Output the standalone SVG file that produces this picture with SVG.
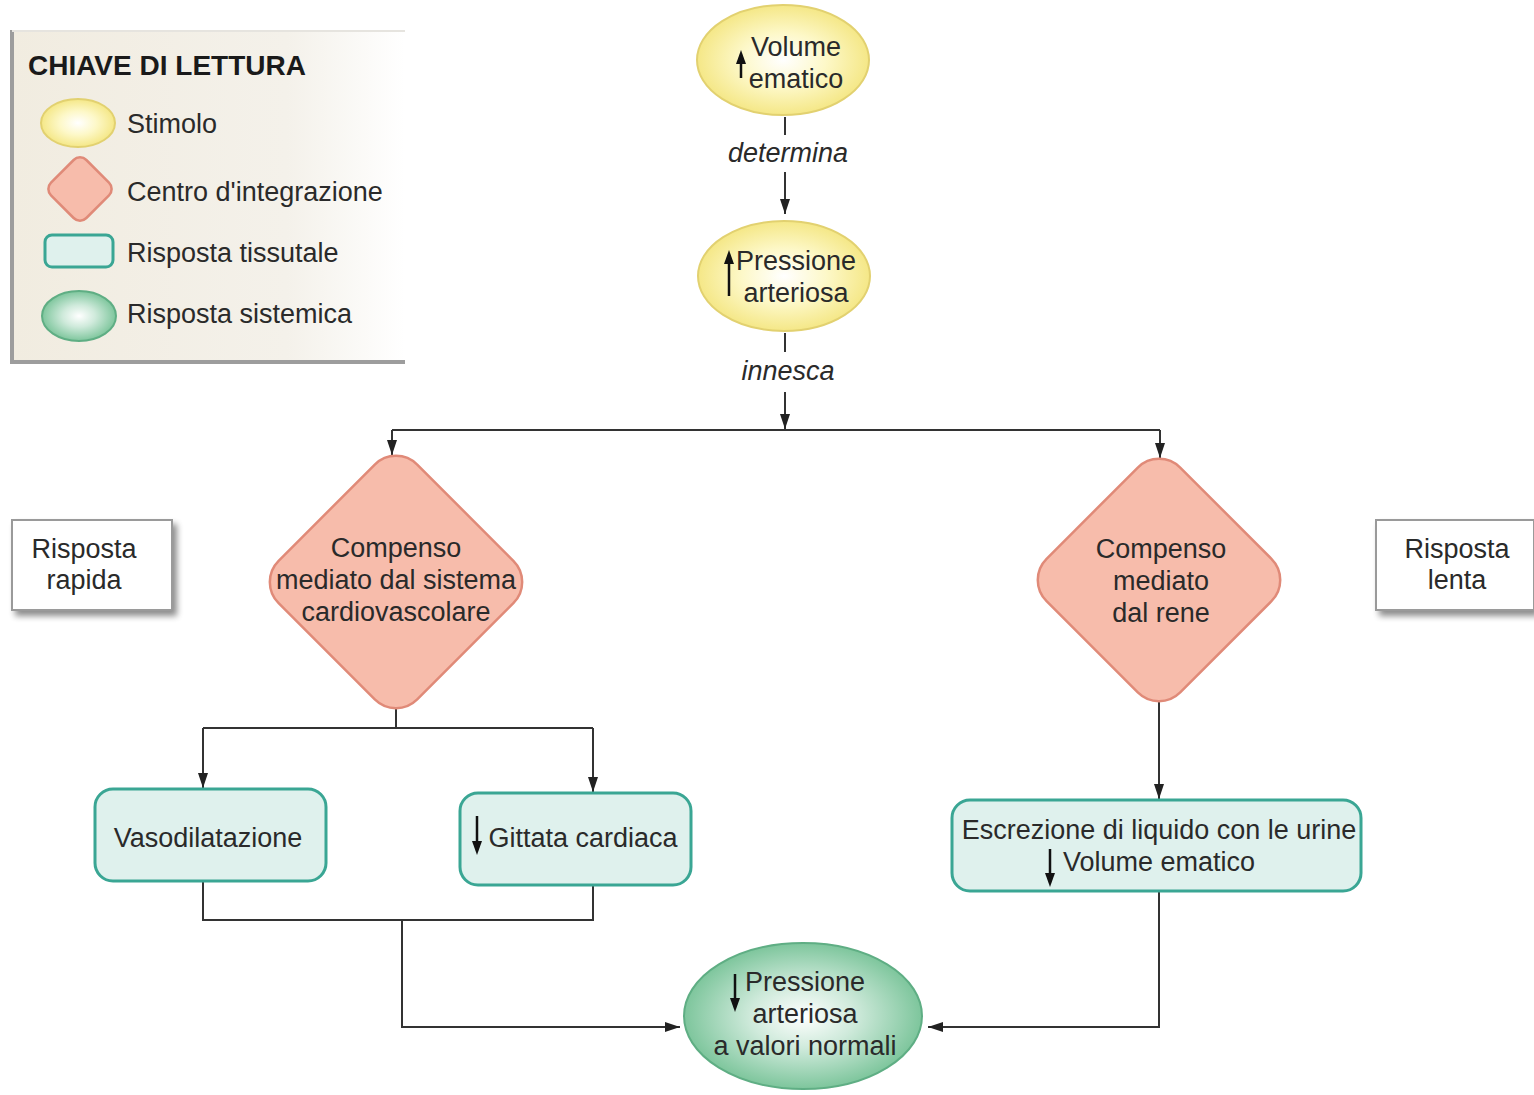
<svg xmlns="http://www.w3.org/2000/svg" width="1534" height="1095" viewBox="0 0 1534 1095">
<defs>
<radialGradient id="gY" cx="50%" cy="50%" r="55%"><stop offset="0" stop-color="#ffffff"/><stop offset="0.45" stop-color="#fdf8c8"/><stop offset="1" stop-color="#f3e47a"/></radialGradient>
<radialGradient id="gG" cx="50%" cy="50%" r="55%"><stop offset="0" stop-color="#ffffff"/><stop offset="0.4" stop-color="#cfeadb"/><stop offset="1" stop-color="#6fbf91"/></radialGradient>
<linearGradient id="gL" x1="0" y1="0" x2="1" y2="0"><stop offset="0" stop-color="#f1ece0"/><stop offset="0.7" stop-color="#f4f1ea"/><stop offset="1" stop-color="#ffffff"/></linearGradient>
<marker id="ah" viewBox="0 0 15 10" refX="15" refY="5" markerWidth="15" markerHeight="10" markerUnits="userSpaceOnUse" orient="auto"><path d="M0,0 L15,5 L0,10 z" fill="#222"/></marker>
<filter id="sh" x="-10%" y="-10%" width="130%" height="130%"><feGaussianBlur in="SourceAlpha" stdDeviation="3"/><feOffset dx="4" dy="5"/><feComponentTransfer><feFuncA type="linear" slope="0.45"/></feComponentTransfer><feMerge><feMergeNode/><feMergeNode in="SourceGraphic"/></feMerge></filter>
</defs>
<style>
text{font-family:"Liberation Sans",Arial,sans-serif;font-size:27px;fill:#2a2a2a}
.c{text-anchor:middle}
.it{font-style:italic}
.b{font-weight:bold;font-size:28px;fill:#1a1a1a}
.stim{fill:url(#gY);stroke:#e2d170;stroke-width:2}
.cent{fill:#f7bcab;stroke:#e08a78;stroke-width:2.5}
.tis{fill:#dff1ed;stroke:#3aa694;stroke-width:3}
.sys{fill:url(#gG);stroke:#5fae84;stroke-width:2}
.con{fill:none;stroke:#333;stroke-width:2}
.ar{stroke:#111;stroke-width:2.5}
.hd{fill:#111}
.side{fill:#fff;stroke:#9a9a9a;stroke-width:2}
</style>
<rect width="1534" height="1095" fill="#fff"/>

<g id="legend">
<rect x="10" y="30" width="395" height="332" fill="url(#gL)"/>
<path d="M12,30 L12,362 L405,362" fill="none" stroke="#9d9d9d" stroke-width="4"/>
<path d="M12,31 L405,31" fill="none" stroke="#e6e4df" stroke-width="2"/>
<text class="b" x="28" y="75">CHIAVE DI LETTURA</text>
<ellipse class="stim" cx="78" cy="123" rx="37" ry="24"/>
<text x="127" y="133">Stimolo</text>
<rect class="cent" x="55" y="164" width="50" height="50" rx="9" transform="rotate(45 80 189)"/>
<text x="127" y="201">Centro d'integrazione</text>
<rect class="tis" x="45" y="235" width="68" height="32" rx="7"/>
<text x="127" y="262">Risposta tissutale</text>
<ellipse class="sys" cx="79" cy="316" rx="37" ry="25"/>
<text x="127" y="323">Risposta sistemica</text>
</g>

<g id="connectors">
<path class="con" d="M785,117 L785,135"/>
<path class="con" d="M785,172 L785,214" marker-end="url(#ah)"/>
<path class="con" d="M785,333 L785,352"/>
<path class="con" d="M785,392 L785,429" marker-end="url(#ah)"/>
<path class="con" d="M392,430 L1160,430"/>
<path class="con" d="M392,430 L392,455" marker-end="url(#ah)"/>
<path class="con" d="M1160,430 L1160,458" marker-end="url(#ah)"/>
<path class="con" d="M396,709 L396,728 M203,728 L593,728"/>
<path class="con" d="M203,728 L203,788" marker-end="url(#ah)"/>
<path class="con" d="M593,728 L593,792" marker-end="url(#ah)"/>
<path class="con" d="M1159,702 L1159,799" marker-end="url(#ah)"/>
<path class="con" d="M203,881 L203,920 L593,920 L593,885"/>
<path class="con" d="M402,920 L402,1027 L680,1027" marker-end="url(#ah)"/>
<path class="con" d="M1159,891 L1159,1027 L928,1027" marker-end="url(#ah)"/>
</g>

<g id="label-determina"><text class="c it" x="788" y="162">determina</text></g>
<g id="label-innesca"><text class="c it" x="788" y="380">innesca</text></g>

<g id="n-volume">
<ellipse class="stim" cx="783" cy="60" rx="86" ry="55"/>
<line class="ar" x1="741" y1="78" x2="741" y2="62"/>
<polygon class="hd" points="741,50 736,64 746,64"/>
<text class="c" x="796" y="56">Volume</text>
<text class="c" x="796" y="88">ematico</text>
</g>

<g id="n-pressione">
<ellipse class="stim" cx="784" cy="276" rx="86" ry="55"/>
<line class="ar" x1="729" y1="296" x2="729" y2="262"/>
<polygon class="hd" points="729,250 724,264 734,264"/>
<text class="c" x="796" y="270">Pressione</text>
<text class="c" x="796" y="302">arteriosa</text>
</g>

<g id="n-cardio">
<rect class="cent" x="298" y="484" width="196" height="196" rx="30" transform="rotate(45 396 582)"/>
<text class="c" x="396" y="557">Compenso</text>
<text class="c" x="396" y="589">mediato dal sistema</text>
<text class="c" x="396" y="621">cardiovascolare</text>
</g>

<g id="n-rene">
<rect class="cent" x="1064.5" y="485.5" width="189" height="189" rx="30" transform="rotate(45 1159 580)"/>
<text class="c" x="1161" y="558">Compenso</text>
<text class="c" x="1161" y="590">mediato</text>
<text class="c" x="1161" y="622">dal rene</text>
</g>

<g id="n-rapida">
<rect class="side" x="12" y="520" width="160" height="90" filter="url(#sh)"/>
<text class="c" x="84" y="558">Risposta</text>
<text class="c" x="84" y="589">rapida</text>
</g>

<g id="n-lenta">
<rect class="side" x="1376" y="520" width="158" height="90" filter="url(#sh)"/>
<text class="c" x="1457" y="558">Risposta</text>
<text class="c" x="1457" y="589">lenta</text>
</g>

<g id="n-vaso">
<rect class="tis" x="95" y="789" width="231" height="92" rx="18"/>
<text class="c" x="208" y="847">Vasodilatazione</text>
</g>

<g id="n-gittata">
<rect class="tis" x="460" y="793" width="231" height="92" rx="18"/>
<line class="ar" x1="477" y1="816" x2="477" y2="843"/>
<polygon class="hd" points="477,855 472,841 482,841"/>
<text class="c" x="583" y="847">Gittata cardiaca</text>
</g>

<g id="n-escrezione">
<rect class="tis" x="952" y="800" width="409" height="91" rx="18"/>
<text class="c" x="1159" y="839">Escrezione di liquido con le urine</text>
<line class="ar" x1="1050" y1="849" x2="1050" y2="875"/>
<polygon class="hd" points="1050,887 1045,873 1055,873"/>
<text class="c" x="1159" y="871">Volume ematico</text>
</g>

<g id="n-finale">
<ellipse class="sys" cx="803" cy="1016" rx="119" ry="73"/>
<line class="ar" x1="735" y1="974" x2="735" y2="1000"/>
<polygon class="hd" points="735,1012 730,998 740,998"/>
<text class="c" x="805" y="991">Pressione</text>
<text class="c" x="805" y="1023">arteriosa</text>
<text class="c" x="805" y="1055">a valori normali</text>
</g>
</svg>
